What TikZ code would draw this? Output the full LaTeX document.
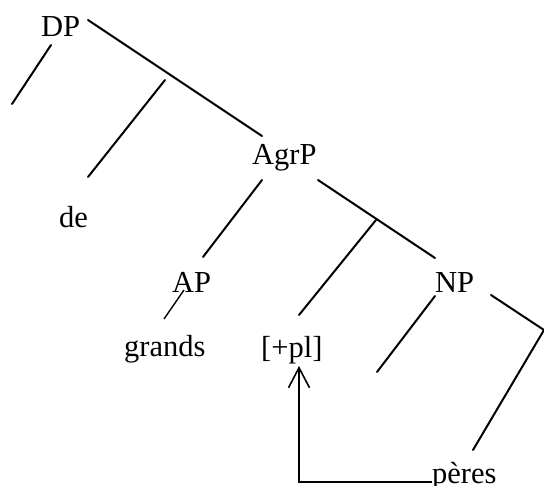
\documentclass[tikz,border=0pt]{standalone}
\usepackage{fontspec}
\setmainfont{Liberation Serif}
\usetikzlibrary{arrows.meta}
\begin{document}
\begin{tikzpicture}[x=1pt,y=-1pt,
  lbl/.style={inner sep=0pt,anchor=base west,font=\fontsize{30.5}{36}\selectfont},
  branch/.style={line width=2pt,line cap=round},
  move/.style={line width=1.6pt,-{Straight Barb[length=20pt,width=21pt,line width=1.6pt]}}]
\useasboundingbox (0,0) rectangle (544,486);

% labels
\node[lbl] (dp)    at (41,37)   {DP};
\node[lbl] (de)    at (59,228)  {de};
\node[lbl] (agrp)  at (252,165) {AgrP};
\node[lbl] (ap)    at (172,293) {AP};
\node[lbl] (np)    at (435,293) {NP};
\node[lbl] (grands) at (124,357) {grands};
\node[lbl] (pl)    at (261,358) {[+pl]};
\node[lbl] (peres) at (432,483) {pères};

% branch end points
\coordinate (dpL1) at (51,45);   \coordinate (dpL2) at (12,104);
\coordinate (dpR1) at (88,20);   \coordinate (dpR2) at (262,136);
\coordinate (dB1) at (165,80);   \coordinate (dB2) at (88,177);
\coordinate (aL1) at (262,180);  \coordinate (aL2) at (203,257);
\coordinate (aR1) at (318,180);  \coordinate (aR2) at (435,258);
\coordinate (aB1) at (376,220);  \coordinate (aB2) at (299,315);
\coordinate (apL1) at (184,290); \coordinate (apL2) at (164,319);
\coordinate (nL1) at (435,296);  \coordinate (nL2) at (377,372);
\coordinate (nR1) at (491,295);  \coordinate (nR2) at (544,330);
\coordinate (nD2) at (473,450);

% tree branches
\draw[branch] (dpL1) -- (dpL2);
\draw[branch] (dpR1) -- (dpR2);
\draw[branch] (dB1) -- (dB2);
\draw[branch] (aL1) -- (aL2);
\draw[branch] (aR1) -- (aR2);
\draw[branch] (aB1) -- (aB2);
\draw[line width=1.4pt] (apL1) -- (apL2);
\draw[branch] (nL1) -- (nL2);
\draw[branch] (nR1) -- (nR2) -- (nD2);

% movement arrow
\coordinate (mvS) at (432,482);
\coordinate (mvC) at (299,482);
\coordinate (mvT) at (299,366);
\draw[move] (mvS) -- (mvC) -- (mvT);
\end{tikzpicture}
\end{document}
